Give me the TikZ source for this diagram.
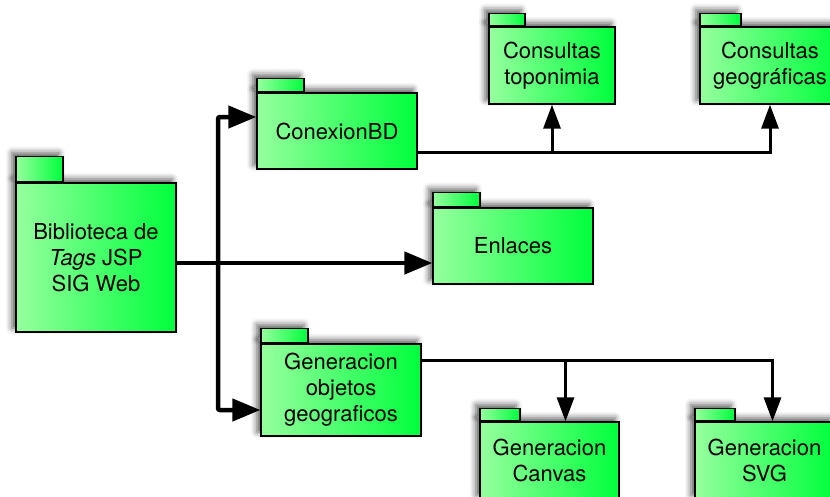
\documentclass[tikz,border=0pt]{standalone}
\usepackage{fontspec}
\setmainfont{TeX Gyre Heros}
\usetikzlibrary{arrows.meta,positioning,shadows.blur}
\definecolor{PkgLight}{HTML}{96FF9E}
\definecolor{PkgDark}{HTML}{00FF3C}
\tikzset{
  pkg/.style={draw=black,line width=1.3pt,left color=PkgLight,right color=PkgDark,inner sep=0pt,align=center,
    font=\fontsize{22pt}{26pt}\selectfont,
    blur shadow={shadow xshift=-4pt,shadow yshift=4pt,shadow blur radius=6pt,shadow opacity=65}},
  pkgtab/.style={pkg,anchor=south west,minimum height=13pt},
  mainArrow/.style={-{Triangle[length=28pt,width=22pt]},line width=4.5pt,draw=black,rounded corners=2pt},
  branchArrow/.style={-{Triangle[length=24pt,width=17pt]},line width=3pt,draw=black}
}
\begin{document}
\begin{tikzpicture}[x=1pt,y=-1pt]
  \useasboundingbox (0,0) rectangle (830,496);
  \clip (0,0) rectangle (830,496);

  \node[pkg,minimum width=160pt,minimum height=149pt] (bib) at (96,257.5) {Biblioteca de\\\textit{Tags} JSP\\SIG Web};
  \node[pkgtab,minimum width=47pt,minimum height=25pt] (bibtab) at (bib.north west) {};

  \node[pkg,minimum width=160pt,minimum height=76pt] (con) at (337,131) {ConexionBD};
  \node[pkgtab,minimum width=47pt] (contab) at (con.north west) {};
  \node[pkg,minimum width=126pt,minimum height=77pt] (topo) at (552,65.5) {Consultas\\toponimia};
  \node[pkgtab,minimum width=36pt,minimum height=12pt] (topotab) at (topo.north west) {};
  \node[pkg,minimum width=140pt,minimum height=77pt] (geo) at (770,65.5) {Consultas\\geográficas};
  \node[pkgtab,minimum width=41pt,minimum height=12pt] (geotab) at (geo.north west) {};

  \node[pkg,minimum width=160pt,minimum height=76pt] (enl) at (513,246) {Enlaces};
  \node[pkgtab,minimum width=47pt,minimum height=14pt] (enltab) at (enl.north west) {};

  \node[pkg,minimum width=160pt,minimum height=92pt] (gen) at (341,390) {Generacion\\objetos\\geograficos};
  \node[pkgtab,minimum width=47pt,minimum height=14pt] (gentab) at (gen.north west) {};
  \node[pkg,minimum width=139pt,minimum height=77pt] (canvas) at (549.5,460.5) {Generacion\\Canvas};
  \node[pkgtab,minimum width=40pt,minimum height=12pt] (canvastab) at (canvas.north west) {};
  \node[pkg,minimum width=139pt,minimum height=77pt] (svg) at (764.5,460.5) {Generacion\\SVG};
  \node[pkgtab,minimum width=40pt,minimum height=12pt] (svgtab) at (svg.north west) {};

  % main fork
  \coordinate (fork) at (218,263);
  \draw[mainArrow] ([yshift=-5.5pt]bib.east) coordinate (bibout) -- (bibout -| enl.west);
  \draw[mainArrow] (fork) |- ([yshift=14pt]con.west);
  \draw[mainArrow] (fork) |- ([yshift=-20pt]gen.west);

  % consultas
  \draw[branchArrow] ([yshift=-21pt]con.east) coordinate (conout) -| (geo.south);
  \draw[branchArrow] (conout -| topo.south) -- (topo.south);

  % generacion
  \coordinate (svgin) at ([xshift=8pt]svg.north);
  \coordinate (canvasin) at ([xshift=16pt]canvas.north);
  \draw[branchArrow] ([yshift=30pt]gen.east) coordinate (genout) -| (svgin);
  \draw[branchArrow] (genout -| canvasin) -- (canvasin);
\end{tikzpicture}
\end{document}
